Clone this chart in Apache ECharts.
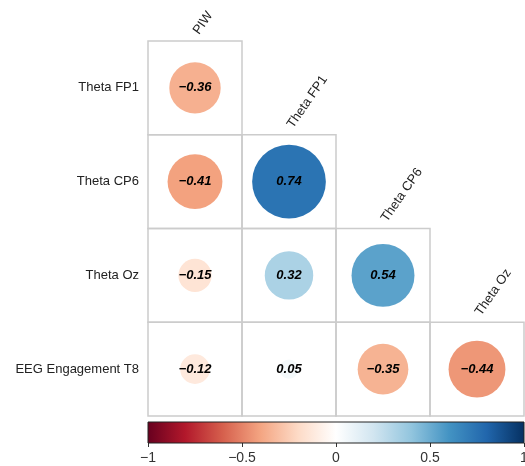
<!DOCTYPE html>
<html>
<head>
<meta charset="utf-8">
<script src="https://cdn.jsdelivr.net/npm/echarts@6/dist/echarts.min.js"></script>
<style>html,body{margin:0;padding:0;background:#fff;}#c{width:525px;height:466px;}</style>
</head>
<body>
<div id="c"></div>
<script>
const colLabels = ['PIW', 'Theta FP1', 'Theta CP6', 'Theta Oz'];
const rowLabels = ['Theta FP1', 'Theta CP6', 'Theta Oz', 'EEG Engagement T8'];
// lower-triangle correlations: [colIndex, rowIndex, r]
const corrValues = [
  [0, 0, -0.36],
  [0, 1, -0.41], [1, 1, 0.74],
  [0, 2, -0.15], [1, 2, 0.32], [2, 2, 0.54],
  [0, 3, -0.12], [1, 3, 0.05], [2, 3, -0.35], [3, 3, -0.44]
];
const colorbarTicks = [-1, -0.5, 0, 0.5, 1];
const rdbu = ['#67001F', '#B2182B', '#D6604D', '#F4A582', '#FDDBC7', '#FFFFFF',
              '#D1E5F0', '#92C5DE', '#4393C3', '#2166AC', '#053061'];

const fmt = v => String(v).replace('-', '\u2212');
const chart = echarts.init(document.getElementById('c'));

chart.setOption({
  animation: false,
  textStyle: { fontFamily: 'Liberation Sans, Arial, sans-serif' },
  grid: [
    { left: 148, top: 41, width: 376, height: 375, outerBoundsMode: 'none', containLabel: false },
    { left: 148, top: 422, width: 376, height: 21, outerBoundsMode: 'none', containLabel: false }
  ],
  xAxis: [
    { gridIndex: 0, type: 'category', data: colLabels, show: false },
    { gridIndex: 1, type: 'value', min: colorbarTicks[0], max: colorbarTicks[colorbarTicks.length - 1], interval: 0.5,
      axisLine: { show: false }, splitLine: { show: false },
      axisTick: { show: true, length: 4, lineStyle: { color: '#333' } },
      axisLabel: { fontSize: 14, color: '#333', margin: 8, formatter: v => fmt(v) } }
  ],
  yAxis: [
    { gridIndex: 0, type: 'category', data: rowLabels, inverse: true,
      axisLine: { show: false }, axisTick: { show: false }, splitLine: { show: false },
      axisLabel: { fontSize: 13, color: '#222', margin: 9 } },
    { gridIndex: 1, type: 'value', min: 0, max: 1, show: false }
  ],
  visualMap: {
    show: false, type: 'continuous', seriesIndex: 0, dimension: 2,
    min: -1, max: 1, inRange: { color: rdbu }
  },
  series: [
    {
      type: 'custom', xAxisIndex: 0, yAxisIndex: 0,
      data: corrValues,
      renderItem: function (params, api) {
        const c = api.coord([api.value(0), api.value(1)]);
        const s = api.size([1, 1]);
        const v = api.value(2);
        const r = 0.457 * Math.min(s[0], s[1]) * Math.sqrt(Math.abs(v));
        return {
          type: 'group',
          children: [
            { type: 'rect', shape: { x: c[0] - s[0] / 2, y: c[1] - s[1] / 2, width: s[0], height: s[1] },
              style: { fill: null, stroke: '#cccccc', lineWidth: 1.5 } },
            { type: 'circle', shape: { cx: c[0], cy: c[1], r: r },
              style: { fill: api.visual('color') } },
            { type: 'text', x: c[0], y: c[1],
              style: { text: fmt(v.toFixed(2)), fill: '#000', font: 'italic bold 13px "Liberation Sans", Arial, sans-serif',
                       align: 'center', verticalAlign: 'middle' } }
          ]
        };
      }
    },
    {
      type: 'custom', xAxisIndex: 0, yAxisIndex: 0,
      data: colLabels.map((n, i) => [i, i]),
      renderItem: function (params, api) {
        const i = api.value(0);
        const c = api.coord([i, api.value(1)]);
        const s = api.size([1, 1]);
        return {
          type: 'text', x: c[0] + 1, y: c[1] - s[1] / 2 - 8, rotation: 55 * Math.PI / 180,
          style: { text: colLabels[i], fill: '#222', font: '13px "Liberation Sans", Arial, sans-serif',
                   align: 'left', verticalAlign: 'middle' }
        };
      }
    },
    {
      type: 'custom', xAxisIndex: 1, yAxisIndex: 1,
      data: [[colorbarTicks[0], colorbarTicks[colorbarTicks.length - 1]]],
      renderItem: function (params, api) {
        const p0 = api.coord([api.value(0), 0]);
        const p1 = api.coord([api.value(1), 1]);
        return {
          type: 'rect',
          shape: { x: p0[0], y: p1[1], width: p1[0] - p0[0], height: p0[1] - p1[1] },
          style: {
            fill: new echarts.graphic.LinearGradient(0, 0, 1, 0,
              rdbu.map((col, k) => ({ offset: k / (rdbu.length - 1), color: col }))),
            stroke: '#222', lineWidth: 1
          }
        };
      }
    }
  ]
});
</script>
</body>
</html>
